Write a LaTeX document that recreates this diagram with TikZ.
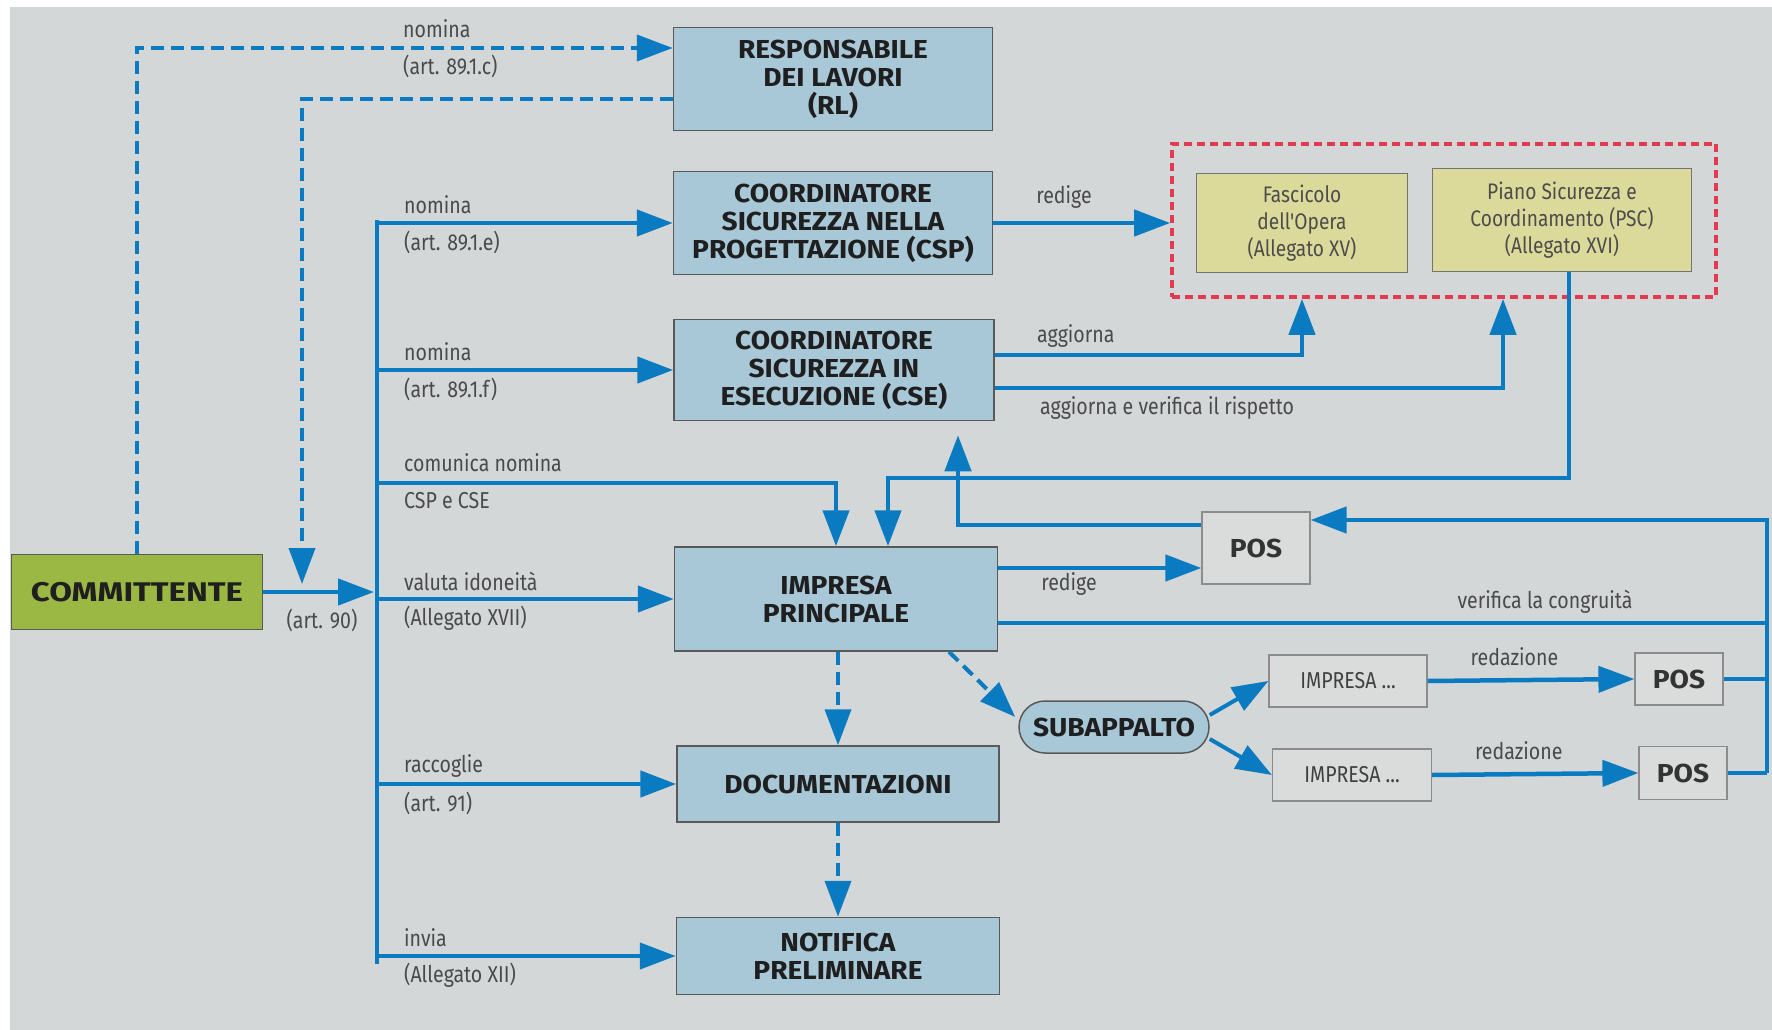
\documentclass[tikz,border=0pt]{standalone}
\usepackage{fontspec}
\setmainfont{Fira Sans}
\newfontfamily\condfont[FakeStretch=0.85]{Fira Sans}
\newfontfamily\headfont[FakeStretch=1.08]{Fira Sans}
\newfontfamily\widefont[FakeStretch=1.22]{Fira Sans}
\usetikzlibrary{arrows.meta,positioning,fit}
\definecolor{bgcol}{HTML}{D4D7D8}
\definecolor{boxblue}{HTML}{A8C8D8}
\definecolor{linkblue}{HTML}{0B7BC1}
\definecolor{greenbox}{HTML}{9BB845}
\definecolor{yellowbox}{HTML}{DCDA9A}
\definecolor{posfill}{HTML}{DADCDC}
\definecolor{redline}{HTML}{E23A50}
\definecolor{textgrey}{HTML}{4A4A4A}
\begin{document}
\begin{tikzpicture}[x=1pt,y=-1pt,
    role/.style={draw=black!65,line width=1.5pt,fill=boxblue,align=center,inner sep=0pt,
      text=black!88,font=\headfont\bfseries\fontsize{26}{28}\selectfont},
    doc/.style={draw=black!55,line width=1.2pt,fill=yellowbox,align=center,inner sep=0pt,
      text=black!70,font=\condfont\fontsize{22.5}{27}\selectfont},
    posbox/.style={draw=black!45,line width=1.2pt,fill=posfill,inner sep=0pt,
      text=black!80,font=\headfont\bfseries\fontsize{26}{28}\selectfont},
    subbox/.style={draw=black!45,line width=1.2pt,fill=posfill,inner sep=0pt,
      text=black!75,font=\condfont\fontsize{23}{26}\selectfont},
    lab/.style={inner sep=0pt,text=textgrey,font=\condfont\fontsize{23}{26}\selectfont},
    plain/.style={draw=linkblue,line width=4.5pt},
    link/.style={plain,-{Triangle[length=36pt,width=26pt]}},
    dlink/.style={link,line width=4pt,dash pattern=on 13pt off 7pt}]
  % sfondo
  \useasboundingbox (0,0) rectangle (1772,1030);
  \fill[white] (0,0) rectangle (1772,1030);
  \fill[bgcol] (10,7) rectangle (1772,1030);

  % figure
  \node[role,minimum width=319pt,minimum height=103pt] (rl) at (833,79) {RESPONSABILE\\DEI LAVORI\\(RL)};
  \node[role,minimum width=319pt,minimum height=103pt] (csp) at (833,223) {COORDINATORE\\SICUREZZA NELLA\\PROGETTAZIONE (CSP)};
  \node[role,minimum width=320pt,minimum height=101pt] (cse) at (834,370) {COORDINATORE\\SICUREZZA IN\\ESECUZIONE (CSE)};
  \node[role,minimum width=323pt,minimum height=104pt] (imp) at (836,599) {IMPRESA\\PRINCIPALE};
  \node[role,minimum width=322pt,minimum height=76pt] (docu) at (838,784) {DOCUMENTAZIONI};
  \node[role,minimum width=323pt,minimum height=77pt] (notif) at (838,956) {NOTIFICA\\PRELIMINARE};
  \node[role,fill=greenbox,minimum width=251pt,minimum height=75pt,
    font=\widefont\bfseries\fontsize{27}{28}\selectfont] (comm) at (137,592) {COMMITTENTE};

  % documenti di progetto
  \node[doc,minimum width=211pt,minimum height=99pt] (fasc) at (1302,223) {Fascicolo\\dell'Opera\\(Allegato XV)};
  \node[doc,minimum width=259pt,minimum height=103pt] (psc) at (1562,220) {Piano Sicurezza e\\Coordinamento (PSC)\\(Allegato XVI)};
  \node[draw=redline,line width=3.5pt,dash pattern=on 8pt off 5pt,fit=(fasc)(psc),inner sep=24pt] (docs) {};

  \node[posbox,minimum width=108pt,minimum height=72pt] (pos) at (1256,548) {POS};
  \node[role,rounded corners=26pt,minimum width=190pt,minimum height=52pt] (sub) at (1114,727) {SUBAPPALTO};
  \node[subbox,minimum width=158pt,minimum height=52pt] (impa) at (1348,681) {IMPRESA ...};
  \node[subbox,minimum width=159pt,minimum height=52pt] (impb) at (1352,775) {IMPRESA ...};
  \node[posbox,minimum width=88pt,minimum height=52pt] (posa) at (1679,679) {POS};
  \node[posbox,minimum width=88pt,minimum height=53pt] (posb) at (1683,773) {POS};

  % committente
  \coordinate (bustop) at (377,222);
  \coordinate (busbot) at (377,962);
  \coordinate (rltip) at (302,584);
  \draw[dlink] (comm.north) |- ([yshift=31pt]rl.west);
  \node[lab,anchor=west] (nomrl) at (403,29) {nomina};
  \node[lab,anchor=west] (artrl) at (403,66) {(art. 89.1.c)};
  \draw[dlink] ([yshift=-20pt]rl.west) -| (rltip);
  \draw[link] (comm.east) -- ([xshift=-3pt]bustop |- comm.east);
  \node[lab] (art90) at (322,620) {(art. 90)};
  \draw[plain,line cap=rect] (bustop) -- (busbot);
  \foreach \n/\a/\b in {csp/nomina/{(art. 89.1.e)},cse/nomina/{(art. 89.1.f)},
      imp/valuta idoneità/{(Allegato XVII)},docu/raccoglie/{(art. 91)},notif/invia/{(Allegato XII)}}{
    \draw[link] (bustop |- \n.west) -- (\n.west);
    \node[lab,anchor=west] (a-\n) at ([xshift=27pt,yshift=18pt]bustop |- \n.west) {\a};
    \node[lab,anchor=west] (b-\n) at ([xshift=27pt,yshift=-19pt]bustop |- \n.west) {\b};
  }
  \coordinate (comrow) at (377,483);
  \draw[link] (comrow) -| (imp.north);
  \node[lab,anchor=west] (com1) at (404,463) {comunica nomina};
  \node[lab,anchor=west] (com2) at (404,501) {CSP e CSE};

  % coordinatori
  \draw[link] (csp.east) -- node[lab,above=12pt,pos=0.4] (redcsp) {redige} (docs.west |- csp.east);
  \draw[link] ([yshift=15pt]cse.east) -| (fasc.south |- docs.south);
  \node[lab,anchor=west] (aggf) at (1037,336) {aggiorna};
  \draw[link] ([yshift=-18pt]cse.east) -| ([xshift=-59pt]psc.south |- docs.south);
  \node[lab,anchor=west] (aggp) at (1040,408) {aggiorna e verifica il rispetto};
  \coordinate (pscturn) at (888,478);
  \draw[link] ([xshift=7pt]psc.south) |- (pscturn) -- (pscturn |- imp.north);

  % impresa e POS
  \coordinate (impr) at ([yshift=31pt]imp.east);
  \draw[link] (impr) -- (impr -| pos.west);
  \node[lab] (redpos) at (1069,584) {redige};
  \draw[link,shorten >=14pt] ([yshift=23pt]pos.west) -| ([xshift=124pt]cse.south);
  \coordinate (rtop) at (1767,520);
  \draw[link] ([yshift=-24pt]imp.east) -| (rtop) -- (rtop -| pos.east);
  \node[lab] (congr) at (1545,602) {verifica la congruità};
  \draw[plain] (rtop) -- (rtop |- posb.east);
  \draw[plain] (posa.east) -- (posa.east -| rtop);
  \draw[plain] (posb.east) -- (posb.east -| rtop);

  % flussi tratteggiati
  \draw[dlink] (imp.south -| docu.north) -- (docu.north);
  \draw[dlink] (docu.south) -- (notif.north);
  \draw[dlink] ([xshift=113pt]imp.south) -- ([yshift=10pt,xshift=-3pt]sub.west);

  % subappalto
  \draw[link,line width=4pt] ([yshift=12pt]sub.east) -- (impa.west);
  \draw[link,line width=4pt] ([yshift=-12pt]sub.east) -- (impb.west);
  \draw[link] (impa.east) -- node[lab,above=12pt,pos=0.42] (reda) {redazione} (posa.west);
  \draw[link] (impb.east) -- node[lab,above=12pt,pos=0.42] (redb) {redazione} (posb.west);
\end{tikzpicture}
\end{document}
